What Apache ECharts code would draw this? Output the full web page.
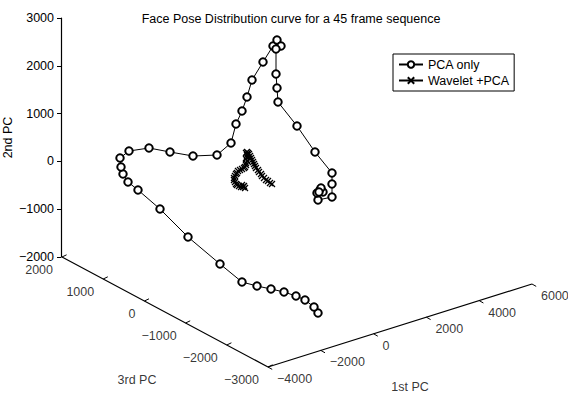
<!DOCTYPE html>
<html>
<head>
<meta charset="utf-8">
<script src="https://cdn.jsdelivr.net/npm/echarts@6/dist/echarts.min.js"></script>
<style>html,body{margin:0;padding:0;background:#fff}#c{width:568px;height:393px}</style>
</head>
<body>
<div id="c"></div>
<script>
// ---- data ----
const titleText = 'Face Pose Distribution curve for a 45 frame sequence';
const seriesNames = ['PCA only', 'Wavelet +PCA'];
const pc2Ticks = [-2000, -1000, 0, 1000, 2000, 3000];
const pc3Ticks = [2000, 1000, 0, -1000, -2000, -3000];
const pc1Ticks = [-4000, -2000, 0, 2000, 4000, 6000];
const pc3TickLabels = ['2000', '1000', '0', '\u22121000', '\u22122000', '\u22123000'];
const pc1TickLabels = ['\u22124000', '\u22122000', '0', '2000', '4000', '6000'];
const axisNames = ['1st PC', '2nd PC', '3rd PC'];

// projected (screen-plane) positions of the 45 frames
const pcaX = [318, 314, 305, 296, 284, 271, 257, 242, 220, 188, 160, 138, 128, 123, 121, 120, 129, 149, 170, 193, 217, 231, 236, 242, 247, 252, 263, 273, 277, 281, 276, 276, 277, 278, 297, 315, 332, 332, 332, 318, 317, 320, 323, 321, 319];
const pcaY = [313, 307, 300, 296, 292, 289, 286, 282, 264, 237, 209, 190, 182, 174, 167, 158, 151, 148, 152, 156, 155, 143, 124, 111, 97, 80, 62, 46, 40, 46, 49, 74, 88, 102, 126, 152, 173, 184, 197, 200, 193, 190, 192, 188, 192];
const waveX = [272, 270, 268, 266, 264, 262, 261, 259, 258, 256, 255, 254, 253, 252, 251, 250, 249, 248, 247, 246, 247, 247, 246, 247, 246, 246, 245, 244, 242, 240, 238, 237, 236, 235, 234, 234, 235, 236, 237, 239, 241, 243, 245, 244, 242];
const waveY = [184, 183, 181, 180, 178, 176, 174, 172, 170, 168, 166, 164, 162, 160, 158, 156, 154, 153, 152, 153, 155, 157, 159, 161, 163, 165, 167, 168, 169, 170, 171, 173, 174, 176, 178, 180, 182, 184, 185, 186, 187, 187, 188, 186, 185];

// ---- layout of the projected floor axes (screen plane) ----
const pc3Start = [62, 257], pc3End = [268, 367];
const pc1Start = [268, 367], pc1End = [532, 284];
const pc3TickDir = [4.6, -2.2];
const pc1TickDir = [4.2, 2.4];

function lerp(a, b, t) { return [a[0] + (b[0] - a[0]) * t, a[1] + (b[1] - a[1]) * t]; }
function tickPoint(ticks, v, s, e) {
  const t = (v - ticks[0]) / (ticks[ticks.length - 1] - ticks[0]);
  return lerp(s, e, t);
}
const pc3Pos = pc3Ticks.map(v => tickPoint(pc3Ticks, v, pc3Start, pc3End));
const pc1Pos = pc1Ticks.map(v => tickPoint(pc1Ticks, v, pc1Start, pc1End));

const axisLineData = [pc3Start, pc3End, pc1End];
const tickData = [];
pc3Pos.forEach(p => { tickData.push(p, [p[0] + pc3TickDir[0], p[1] + pc3TickDir[1]], '-'); });
pc1Pos.forEach(p => { tickData.push(p, [p[0] + pc1TickDir[0], p[1] + pc1TickDir[1]], '-'); });

const font = 'Liberation Sans';
const txt = { color: '#000', fontFamily: font, fontSize: 12.5, lineHeight: 12 };

const pc3LabelData = pc3Pos.map((p, i) => ({ value: [p[0] - 9, p[1] + 12.5], label: { formatter: pc3TickLabels[i], align: 'right' } }));
const pc1LabelData = pc1Pos.map((p, i) => ({ value: [p[0] + 9, p[1] + 12], label: { formatter: pc1TickLabels[i], align: 'left' } }));
const nameData = [
  { value: [410, 387], label: { formatter: axisNames[0], align: 'center' } },
  { value: [137, 380], label: { formatter: axisNames[2], align: 'center' } }
];

const chart = echarts.init(document.getElementById('c'), null, { renderer: 'svg' });
chart.setOption({
  animation: false,
  backgroundColor: '#fff',
  title: {
    text: titleText, left: 286, top: 7, textAlign: 'center',
    textStyle: { color: '#000', fontFamily: font, fontSize: 12.5, fontWeight: 'normal' }
  },
  legend: {
    orient: 'vertical', left: 393, top: 54,
    data: seriesNames,
    borderColor: '#000', borderWidth: 1, borderRadius: 0,
    padding: [4, 5, 4, 5], itemGap: 3, itemWidth: 24, itemHeight: 8,
    textStyle: { color: '#000', fontFamily: font, fontSize: 12.5 }
  },
  grid: [
    { left: 0, top: 0, width: 568, height: 393 },
    { left: 61, top: 18, width: 1, height: 239 }
  ],
  xAxis: [
    { gridIndex: 0, type: 'value', min: 0, max: 568, show: false },
    { gridIndex: 1, type: 'value', min: 0, max: 1, show: false }
  ],
  yAxis: [
    { gridIndex: 0, type: 'value', min: 0, max: 393, inverse: true, show: false },
    {
      gridIndex: 1, type: 'value', min: pc2Ticks[0], max: pc2Ticks[pc2Ticks.length - 1], interval: 1000,
      axisLine: { show: true, lineStyle: { color: '#000', width: 1.2 } },
      axisTick: { show: true, length: 4, lineStyle: { color: '#000' } },
      axisLabel: Object.assign({ margin: 7, formatter: v => String(v).replace('-', '\u2212') }, txt),
      splitLine: { show: false },
      name: axisNames[1], nameLocation: 'middle', nameGap: 43, nameRotate: 90,
      nameTextStyle: Object.assign({}, txt)
    }
  ],
  series: [
    {
      name: seriesNames[0], type: 'line', xAxisIndex: 0, yAxisIndex: 0,
      data: pcaX.map((x, i) => [x, pcaY[i]]),
      symbol: 'emptyCircle', symbolSize: 7.5, showAllSymbol: true,
      lineStyle: { color: '#000', width: 1 },
      itemStyle: { color: '#000', borderColor: '#000', borderWidth: 1 },
      z: 3
    },
    {
      name: seriesNames[1], type: 'line', xAxisIndex: 0, yAxisIndex: 0,
      data: waveX.map((x, i) => [x, waveY[i]]),
      symbol: 'path://M0,0L10,10M10,0L0,10', symbolSize: 6, showAllSymbol: true,
      lineStyle: { color: '#000', width: 1.2 },
      itemStyle: { color: '#000', borderColor: '#000', borderWidth: 1.3 },
      z: 3
    },
    {
      type: 'line', xAxisIndex: 0, yAxisIndex: 0, data: axisLineData,
      symbol: 'none', lineStyle: { color: '#000', width: 1.2 }, silent: true, z: 2
    },
    {
      type: 'line', xAxisIndex: 0, yAxisIndex: 0, data: tickData, connectNulls: false,
      symbol: 'none', lineStyle: { color: '#000', width: 1 }, silent: true, z: 2
    },
    {
      type: 'scatter', xAxisIndex: 0, yAxisIndex: 0, symbolSize: 0, silent: true,
      data: pc3LabelData.concat(pc1LabelData).concat(nameData),
      label: Object.assign({ show: true, position: 'inside', verticalAlign: 'middle' }, txt)
    }
  ]
});
</script>
</body>
</html>
